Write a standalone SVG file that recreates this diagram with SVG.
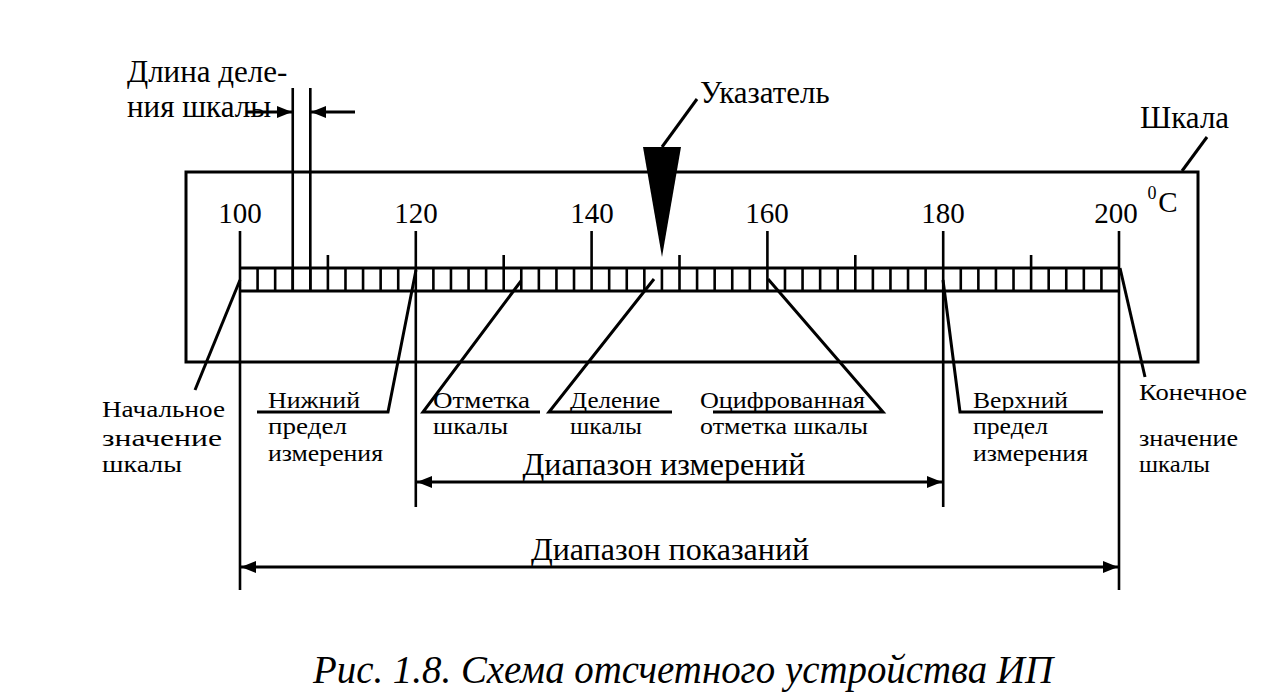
<svg xmlns="http://www.w3.org/2000/svg" width="1279" height="700" viewBox="0 0 1279 700">
<style>
  .ln{stroke:#000;stroke-width:3;fill:none}
  .tk{stroke:#000;stroke-width:2.6;fill:none}
  .t{font-family:'Liberation Serif','DejaVu Serif','Times New Roman',serif;fill:#000}
  .num{font-size:29px;text-anchor:middle}
  .big{font-size:31px}
  .sm{font-size:23px}
  .cap{font-size:40px;font-style:italic}
</style>
<defs>
  <marker id="ah" viewBox="0 0 15 12" refX="15" refY="6" markerWidth="15" markerHeight="12" markerUnits="userSpaceOnUse" orient="auto-start-reverse">
    <path d="M0,0 L15,6 L0,12 z" fill="#000"/>
  </marker>
</defs>
<rect width="1279" height="700" fill="#fff"/>

<g id="scale-body">
  <rect class="ln" x="186" y="172" width="1012" height="190"/>
  <line class="ln" x1="240" y1="268" x2="1119" y2="268"/>
  <line class="ln" x1="240" y1="291" x2="1119" y2="291"/>
</g>

<g id="ticks">
  <path class="tk" d="M257.58 268V291M275.16 268V291M292.74 268V291M310.32 268V291M345.48 268V291M363.06 268V291M380.64 268V291M398.22 268V291M433.38 268V291M450.96 268V291M468.54 268V291M486.12 268V291M521.28 268V291M538.86 268V291M556.44 268V291M574.02 268V291M609.18 268V291M626.76 268V291M644.34 268V291M661.92 268V291M697.08 268V291M714.66 268V291M732.24 268V291M749.82 268V291M784.98 268V291M802.56 268V291M820.14 268V291M837.72 268V291M872.88 268V291M890.46 268V291M908.04 268V291M925.62 268V291M960.78 268V291M978.36 268V291M995.94 268V291M1013.52 268V291M1048.68 268V291M1066.26 268V291M1083.84 268V291M1101.42 268V291"/>
  <path class="tk" d="M327.9 255V291M503.7 255V291M679.5 255V291M855.3 255V291M1031.1 255V291"/>
  <path class="tk" d="M591.6 231V291M767.4 231V291"/>
  <path class="tk" d="M240 231V590M415.8 231V507M943.2 231V507M1119 231V590"/>
</g>

<g id="numbers" class="t num">
  <text x="240" y="223">100</text>
  <text x="416" y="223">120</text>
  <text x="592" y="223">140</text>
  <text x="767" y="223">160</text>
  <text x="943" y="223">180</text>
  <text x="1116" y="223">200</text>
  <text x="1152" y="199" style="font-size:18px">0</text>
  <text x="1168" y="212">C</text>
</g>

<g id="pointer">
  <polygon points="643,147 681,147 662,257" fill="#000"/>
  <line class="ln" x1="662" y1="147" x2="697" y2="99"/>
  <text class="t big" x="700" y="103">Указатель</text>
</g>

<g id="scale-label">
  <line class="ln" x1="1182" y1="171" x2="1207" y2="137"/>
  <text class="t big" x="1140" y="128">Шкала</text>
</g>

<g id="division-length">
  <text class="t big" x="127" y="82">Длина деле-</text>
  <text class="t big" x="127" y="117">ния шкалы</text>
  <line class="tk" x1="292.74" y1="88" x2="292.74" y2="291"/>
  <line class="tk" x1="310.32" y1="88" x2="310.32" y2="291"/>
  <line class="ln" x1="247" y1="112" x2="292" y2="112" marker-end="url(#ah)"/>
  <line class="ln" x1="355" y1="112" x2="311" y2="112" marker-end="url(#ah)"/>
</g>

<g id="start-value">
  <line class="ln" x1="195" y1="390" x2="240" y2="280"/>
  <text class="t sm" x="102" y="417" textLength="123" lengthAdjust="spacingAndGlyphs">Начальное</text>
  <text class="t sm" x="102" y="446" textLength="120" lengthAdjust="spacingAndGlyphs">значение</text>
  <text class="t sm" x="102" y="472" textLength="80" lengthAdjust="spacingAndGlyphs">шкалы</text>
</g>

<g id="lower-limit">
  <polyline class="ln" points="257,412 388,412 416,270"/>
  <text class="t sm" x="268" y="408" textLength="92" lengthAdjust="spacingAndGlyphs">Нижний</text>
  <text class="t sm" x="268" y="434" textLength="79" lengthAdjust="spacingAndGlyphs">предел</text>
  <text class="t sm" x="268" y="461" textLength="115" lengthAdjust="spacingAndGlyphs">измерения</text>
</g>

<g id="scale-mark">
  <polyline class="ln" points="540,412 423,412 521,281"/>
  <text class="t sm" x="433" y="408" textLength="97" lengthAdjust="spacingAndGlyphs">Отметка</text>
  <text class="t sm" x="433" y="434" textLength="75" lengthAdjust="spacingAndGlyphs">шкалы</text>
</g>

<g id="scale-division">
  <polyline class="ln" points="672,412 549,412 654,279"/>
  <text class="t sm" x="570" y="408" textLength="90" lengthAdjust="spacingAndGlyphs">Деление</text>
  <text class="t sm" x="570" y="434" textLength="72" lengthAdjust="spacingAndGlyphs">шкалы</text>
</g>

<g id="digitized-mark">
  <polyline class="ln" points="713,412 883,412 768,279"/>
  <text class="t sm" x="700" y="408" textLength="165" lengthAdjust="spacingAndGlyphs">Оцифрованная</text>
  <text class="t sm" x="700" y="434" textLength="168" lengthAdjust="spacingAndGlyphs">отметка шкалы</text>
</g>

<g id="upper-limit">
  <polyline class="ln" points="1103,412 960,412 943,280"/>
  <text class="t sm" x="973" y="408" textLength="95" lengthAdjust="spacingAndGlyphs">Верхний</text>
  <text class="t sm" x="973" y="434" textLength="75" lengthAdjust="spacingAndGlyphs">предел</text>
  <text class="t sm" x="973" y="461" textLength="115" lengthAdjust="spacingAndGlyphs">измерения</text>
</g>

<g id="end-value">
  <line class="ln" x1="1120" y1="268" x2="1145" y2="377"/>
  <text class="t sm" x="1139" y="400" textLength="108" lengthAdjust="spacingAndGlyphs">Конечное</text>
  <text class="t sm" x="1139" y="446" textLength="99" lengthAdjust="spacingAndGlyphs">значение</text>
  <text class="t sm" x="1139" y="472" textLength="71" lengthAdjust="spacingAndGlyphs">шкалы</text>
</g>

<g id="connectors">
  <line class="ln" x1="417" y1="482" x2="942" y2="482" marker-start="url(#ah)" marker-end="url(#ah)"/>
  <line class="ln" x1="241" y1="567" x2="1118" y2="567" marker-start="url(#ah)" marker-end="url(#ah)"/>
</g>

<g id="range-labels">
  <text class="t big" x="664" y="475" text-anchor="middle" style="font-size:32px">Диапазон измерений</text>
  <text class="t big" x="670" y="560" text-anchor="middle" style="font-size:32px">Диапазон показаний</text>
</g>

<text class="t cap" x="313" y="683" textLength="740" lengthAdjust="spacingAndGlyphs">Рис. 1.8. Схема отсчетного устройства ИП</text>
</svg>
